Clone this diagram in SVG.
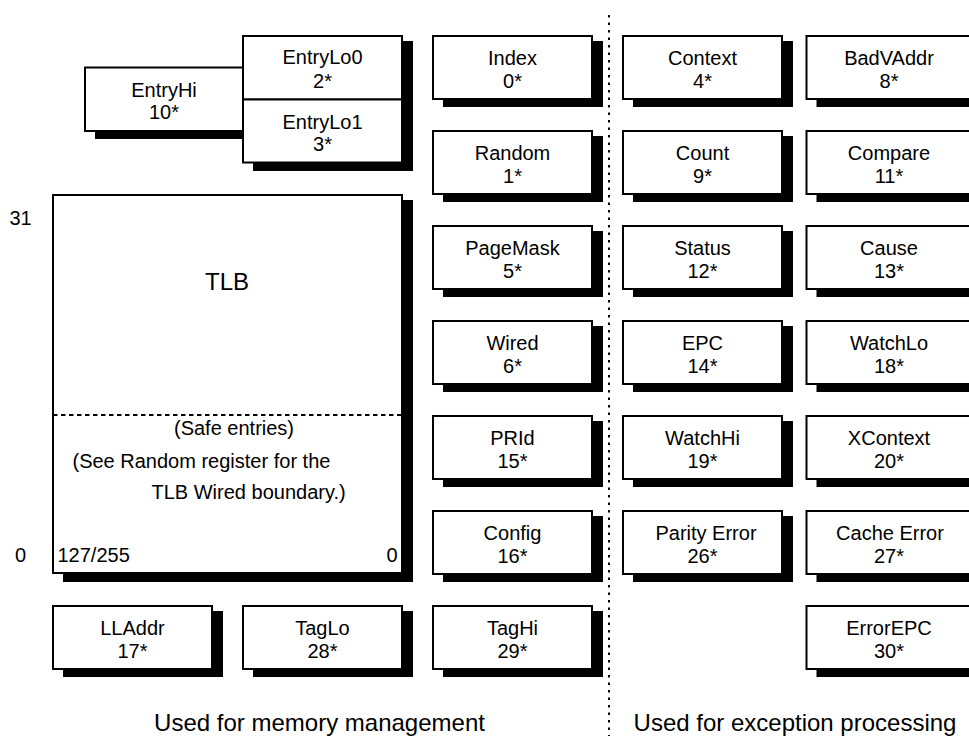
<svg xmlns="http://www.w3.org/2000/svg" width="969" height="736" viewBox="0 0 969 736">
<style>
.box{fill:#fff;stroke:#000;stroke-width:2}
.sh{fill:#000}
.t{font-family:"Liberation Sans",Arial,Helvetica,sans-serif;font-size:20px;fill:#000;text-anchor:middle}
.s{text-anchor:start}
.e{text-anchor:end}
.big{font-size:24px}
.div{fill:none;stroke:#000;stroke-width:2}
</style>
<rect width="969" height="736" fill="#fff"/>

<g id="dividers">
<line class="div" x1="609" y1="15" x2="609" y2="736" stroke-dasharray="2.5 5"/>
</g>

<g id="EntryHi">
<rect class="sh" x="95" y="72.5" width="158.5" height="66.5"/>
<rect class="box" x="85" y="67.5" width="158.5" height="63.5"/>
<text class="t" x="164" y="96.5">EntryHi</text>
<text class="t" x="164" y="118.5">10*</text>
</g>
<g id="EntryLo">
<rect class="sh" x="253" y="41" width="160" height="130"/>
<g id="EntryLo0">
<rect class="box" x="243" y="36" width="159" height="63.5"/>
<text class="t" x="322.5" y="64">EntryLo0</text>
<text class="t" x="322.5" y="87.5">2*</text>
</g>
<g id="EntryLo1">
<rect class="box" x="243" y="99.5" width="159" height="63"/>
<text class="t" x="322.5" y="128.5">EntryLo1</text>
<text class="t" x="322.5" y="151">3*</text>
</g>
</g>

<g id="TLB">
<rect class="sh" x="63" y="200" width="350" height="382"/>
<rect class="box" x="53" y="195" width="349" height="378"/>
<line x1="53" y1="415" x2="402" y2="415" stroke="#000" stroke-width="2" stroke-dasharray="4.5 3.5"/>
<text class="t big" x="227" y="289.5">TLB</text>
<text class="t" x="234" y="435">(Safe entries)</text>
<text class="t s" x="72.5" y="467.5">(See Random register for the</text>
<text class="t s" x="151.5" y="498.5">TLB Wired boundary.)</text>
<text class="t s" x="57.5" y="562">127/255</text>
<text class="t e" x="397.5" y="562">0</text>
</g>
<g id="bit-labels">
<text class="t" x="20.5" y="225">31</text>
<text class="t" x="20.5" y="562">0</text>
</g>

<g id="Index">
<rect class="sh" x="443" y="41" width="160" height="66"/>
<rect class="box" x="433" y="36" width="159" height="63"/>
<text class="t" x="512.5" y="65">Index</text>
<text class="t" x="512.5" y="88">0*</text>
</g>
<g id="Random">
<rect class="sh" x="443" y="136" width="160" height="66"/>
<rect class="box" x="433" y="131" width="159" height="63"/>
<text class="t" x="512.5" y="160">Random</text>
<text class="t" x="512.5" y="183">1*</text>
</g>
<g id="PageMask">
<rect class="sh" x="443" y="231" width="160" height="66"/>
<rect class="box" x="433" y="226" width="159" height="63"/>
<text class="t" x="512.5" y="255">PageMask</text>
<text class="t" x="512.5" y="278">5*</text>
</g>
<g id="Wired">
<rect class="sh" x="443" y="326" width="160" height="66"/>
<rect class="box" x="433" y="321" width="159" height="63"/>
<text class="t" x="512.5" y="350">Wired</text>
<text class="t" x="512.5" y="373">6*</text>
</g>
<g id="PRId">
<rect class="sh" x="443" y="421" width="160" height="66"/>
<rect class="box" x="433" y="416" width="159" height="63"/>
<text class="t" x="512.5" y="445">PRId</text>
<text class="t" x="512.5" y="468">15*</text>
</g>
<g id="Config">
<rect class="sh" x="443" y="516" width="160" height="66"/>
<rect class="box" x="433" y="511" width="159" height="63"/>
<text class="t" x="512.5" y="540">Config</text>
<text class="t" x="512.5" y="563">16*</text>
</g>
<g id="LLAddr">
<rect class="sh" x="63" y="611" width="160" height="66"/>
<rect class="box" x="53" y="606" width="159" height="63"/>
<text class="t" x="132.5" y="635">LLAddr</text>
<text class="t" x="132.5" y="658">17*</text>
</g>
<g id="TagLo">
<rect class="sh" x="253" y="611" width="160" height="66"/>
<rect class="box" x="243" y="606" width="159" height="63"/>
<text class="t" x="322.5" y="635">TagLo</text>
<text class="t" x="322.5" y="658">28*</text>
</g>
<g id="TagHi">
<rect class="sh" x="443" y="611" width="160" height="66"/>
<rect class="box" x="433" y="606" width="159" height="63"/>
<text class="t" x="512.5" y="635">TagHi</text>
<text class="t" x="512.5" y="658">29*</text>
</g>

<g id="Context">
<rect class="sh" x="633" y="41" width="160" height="66"/>
<rect class="box" x="623" y="36" width="159" height="63"/>
<text class="t" x="702.5" y="65">Context</text>
<text class="t" x="702.5" y="88">4*</text>
</g>
<g id="Count">
<rect class="sh" x="633" y="136" width="160" height="66"/>
<rect class="box" x="623" y="131" width="159" height="63"/>
<text class="t" x="702.5" y="160">Count</text>
<text class="t" x="702.5" y="183">9*</text>
</g>
<g id="Status">
<rect class="sh" x="633" y="231" width="160" height="66"/>
<rect class="box" x="623" y="226" width="159" height="63"/>
<text class="t" x="702.5" y="255">Status</text>
<text class="t" x="702.5" y="278">12*</text>
</g>
<g id="EPC">
<rect class="sh" x="633" y="326" width="160" height="66"/>
<rect class="box" x="623" y="321" width="159" height="63"/>
<text class="t" x="702.5" y="350">EPC</text>
<text class="t" x="702.5" y="373">14*</text>
</g>
<g id="WatchHi">
<rect class="sh" x="633" y="421" width="160" height="66"/>
<rect class="box" x="623" y="416" width="159" height="63"/>
<text class="t" x="702.5" y="445">WatchHi</text>
<text class="t" x="702.5" y="468">19*</text>
</g>
<g id="ParityError">
<rect class="sh" x="633" y="516" width="160" height="66"/>
<rect class="box" x="623" y="511" width="159" height="63"/>
<text class="t" x="706" y="540">Parity Error</text>
<text class="t" x="702.5" y="563">26*</text>
</g>

<g id="BadVAddr">
<rect class="sh" x="816.5" y="41" width="166" height="66"/>
<rect class="box" x="806.5" y="36" width="165" height="63"/>
<text class="t" x="889" y="65">BadVAddr</text>
<text class="t" x="889" y="88">8*</text>
</g>
<g id="Compare">
<rect class="sh" x="816.5" y="136" width="166" height="66"/>
<rect class="box" x="806.5" y="131" width="165" height="63"/>
<text class="t" x="889" y="160">Compare</text>
<text class="t" x="889" y="183">11*</text>
</g>
<g id="Cause">
<rect class="sh" x="816.5" y="231" width="166" height="66"/>
<rect class="box" x="806.5" y="226" width="165" height="63"/>
<text class="t" x="889" y="255">Cause</text>
<text class="t" x="889" y="278">13*</text>
</g>
<g id="WatchLo">
<rect class="sh" x="816.5" y="326" width="166" height="66"/>
<rect class="box" x="806.5" y="321" width="165" height="63"/>
<text class="t" x="889" y="350">WatchLo</text>
<text class="t" x="889" y="373">18*</text>
</g>
<g id="XContext">
<rect class="sh" x="816.5" y="421" width="166" height="66"/>
<rect class="box" x="806.5" y="416" width="165" height="63"/>
<text class="t" x="889" y="445">XContext</text>
<text class="t" x="889" y="468">20*</text>
</g>
<g id="CacheError">
<rect class="sh" x="816.5" y="516" width="166" height="66"/>
<rect class="box" x="806.5" y="511" width="165" height="63"/>
<text class="t" x="890" y="540">Cache Error</text>
<text class="t" x="889" y="563">27*</text>
</g>
<g id="ErrorEPC">
<rect class="sh" x="816.5" y="611" width="166" height="66"/>
<rect class="box" x="806.5" y="606" width="165" height="63"/>
<text class="t" x="889" y="635">ErrorEPC</text>
<text class="t" x="889" y="658">30*</text>
</g>

<g id="captions">
<text class="t big" x="319.5" y="731">Used for memory management</text>
<text class="t big" x="795" y="731">Used for exception processing</text>
</g>
</svg>
